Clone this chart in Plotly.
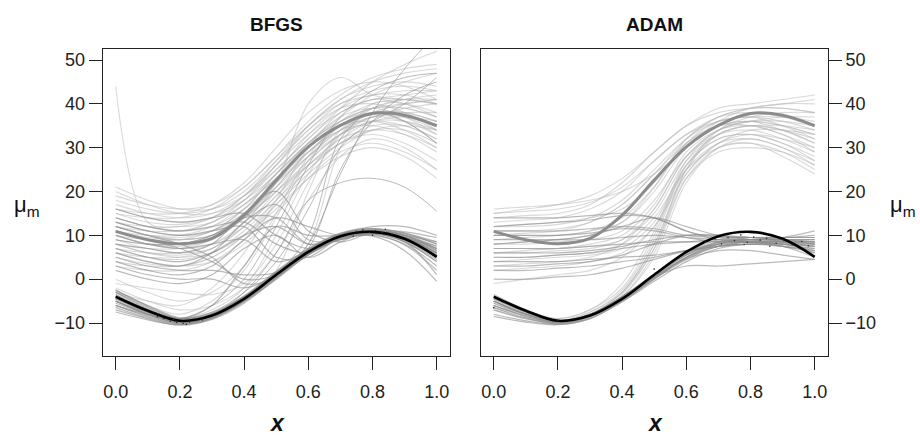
import plotly.graph_objects as go

# ---------------- data ----------------
x_grid = [0.0, 0.1, 0.2, 0.3, 0.4, 0.5, 0.6, 0.7, 0.8, 0.9, 1.0]
x_ticks = [0.0, 0.2, 0.4, 0.6, 0.8, 1.0]
x_tick_labels = ["0.0", "0.2", "0.4", "0.6", "0.8", "1.0"]
y_ticks = [-10, 0, 10, 20, 30, 40, 50]

true_mu1 = [10.9, 9.0, 8.1, 9.3, 14.6, 22.6, 30.2, 35.1, 37.8, 37.4, 35.0]
true_mu2 = [-4.0, -7.2, -9.5, -8.3, -4.5, 1.0, 6.2, 9.8, 10.8, 9.2, 5.1]

# BFGS: estimates ending in the upper component
bfgs_upper = [
    [12, 10, 9.5, 11, 16, 24, 31, 36, 39, 39, 37],
    [8, 6, 5.5, 7, 12, 20, 28, 34, 37, 36, 33],
    [15, 13, 12.5, 14, 19, 26, 33, 38, 41, 41, 40],
    [5, 3.5, 3, 5, 10, 18, 26, 32, 34, 33, 30],
    [18, 16, 15, 16, 20, 27, 34, 40, 43, 44, 43],
    [10, 8, 7.5, 9, 14, 22, 30, 35, 36, 34, 30],
    [13, 11, 10, 11, 15, 22, 29, 35, 39, 41, 42],
    [7, 5, 4.5, 6, 11, 18, 25, 31, 35, 35, 32],
    [20, 17, 15, 15, 18, 24, 31, 37, 42, 45, 47],
    [3, 2, 2, 4, 9, 17, 25, 31, 33, 31, 27],
    [11, 9.5, 9, 10, 14, 20, 27, 33, 37, 38, 38],
    [16, 14, 13, 14, 18, 25, 32, 38, 41, 40, 37],
    [9, 7, 6, 7, 12, 19, 27, 33, 36, 37, 36],
    [14, 12, 11, 13, 18, 26, 34, 39, 40, 38, 34],
    [6, 5, 5, 7, 13, 21, 29, 35, 38, 38, 36],
    [12, 11, 11, 13, 17, 23, 29, 34, 37, 39, 40],
    [17, 15, 14, 15, 19, 26, 35, 41, 44, 45, 44],
    [8, 7, 7, 9, 14, 22, 31, 37, 39, 37, 33],
    [10, 8, 7, 8, 13, 21, 29, 34, 35, 33, 29],
    [13, 12, 12, 14, 19, 27, 35, 40, 42, 43, 43],
    [4, 3, 3, 5, 10, 17, 24, 30, 34, 35, 34],
    [15, 14, 14, 16, 21, 28, 36, 42, 46, 48, 49],
    [9, 8, 8, 10, 15, 23, 31, 36, 38, 36, 31],
    [11, 10, 10, 12, 17, 24, 31, 36, 39, 40, 41],
    [19, 17, 16, 17, 21, 28, 35, 41, 45, 47, 48],
    [7, 6, 6, 8, 12, 19, 26, 32, 36, 36, 34],
    [14, 12, 11, 12, 16, 22, 28, 33, 36, 35, 32],
    [12, 10, 9, 10, 14, 20, 26, 31, 34, 34, 31],
    [6, 4, 3, 4, 8, 15, 23, 29, 31, 29, 25],
    [16, 15, 15, 17, 22, 30, 38, 43, 45, 44, 41],
    [10, 9, 9, 11, 16, 24, 33, 39, 42, 42, 40],
    [13, 11, 10, 11, 15, 21, 28, 34, 38, 40, 41],
    [8, 6, 5, 6, 10, 16, 23, 28, 30, 28, 23],
    [21, 18, 16, 16, 19, 25, 32, 39, 45, 49, 52],
    [44, 13, 12, 13, 17, 23, 30, 36, 39, 39, 37],
    [12, 10, 9, 10, 14, 22, 40, 46, 42, 41, 40],
    [-4, -7, -9, -7, -2, 10, 24, 33, 37, 37, 35],
    [-5, -8, -9.5, -8, -4, 2, 20, 34, 38, 38, 36],
    [-3, -6, -8, -5, 2, 14, 27, 35, 38, 37, 34],
    [-1, -2, -3, -3.5, -1, 8, 22, 33, 39, 41, 41],
    [-6, -8.5, -10, -8.5, -5, 0, 8, 30, 40, 40, 38],
    [0, -3, -5, -3, 3, 15, 28, 36, 40, 41, 40],
    [-2, -5, -7, -6, -2, 6, 18, 28, 32, 30, 25],
    [-3, -5, -6, -2, 6, 18, 30, 38, 41, 42, 43],
]

# BFGS: estimates that switch upward late (darker lines)
bfgs_switch_up = [
    [-4, -7, -9.5, -8, -3, 6, 18, 22, 23, 21, 15.5],
    [-4.5, -7.5, -9.5, -8, -4, 1, 8, 24, 38, 48, 56],
    [-3.5, -7, -9, -7.5, -3, 4, 16, 30, 36, 40, 46],
    [-6, -8, -9, -6, 0, 12, 26, 37, 43, 46, 47],
    [-4, -7, -9.5, -8, -4, 1, 7, 25, 36, 42, 45],
    [-5, -8, -9.8, -8.5, -4.5, 1, 10, 32, 38, 36, 31],
]

# BFGS: estimates ending in the lower component
bfgs_lower = [
    [-3, -6.5, -9, -8, -4, 1.5, 6.5, 10, 11, 9.5, 6],
    [-5, -8, -10, -8.8, -5, 0.5, 5.8, 9.5, 10.5, 8.5, 4],
    [-6, -8.5, -10.3, -9, -5.2, 0, 5.5, 9.5, 11, 10, 7],
    [-2.5, -6, -8.8, -7.6, -3.8, 1.8, 7, 10.5, 11.5, 10, 6.5],
    [-7, -9, -10.5, -9.2, -5.5, 0.2, 5.5, 9, 10, 8, 3],
    [-4.5, -7.5, -9.8, -8.5, -4.8, 0.8, 6, 9.8, 11.2, 10.3, 8],
    [-3.5, -7, -9.3, -8.2, -4.2, 1.2, 6.5, 10.2, 11.5, 10.5, 8.5],
    [-5.5, -8, -9.8, -8.5, -4.6, 1, 6.3, 9.7, 10.2, 7.8, 2],
    [-6.5, -8.8, -10.2, -8.8, -4.8, 0.6, 5.8, 9.4, 10.6, 9.6, 6.8],
    [-4, -7.3, -9.6, -8.4, -4.4, 1.2, 6.4, 10, 11.3, 10.8, 9.5],
    [-3, -6.8, -9.2, -8, -4, 1.5, 6.8, 10.4, 11, 8.8, 4.5],
    [-5, -7.8, -9.8, -8.6, -4.7, 0.8, 6, 9.4, 9.8, 6.5, -0.5],
    [-5, -7.6, -9.7, -8.5, -4.7, 0.7, 6, 9.6, 10.6, 9.4, 7.5],
    [-2.5, -6.2, -9, -7.8, -4, 1.6, 6.8, 10.3, 12, 12, 10],
    [-6, -8.2, -10, -8.7, -4.9, 0.5, 5.8, 9.3, 10.4, 9, 5.5],
    [-7.5, -9.3, -10.4, -9, -5, 0.4, 5.6, 9.2, 10.3, 8.6, 1],
    [10, 8, 7, 8, 9, 4, 6.5, 10, 11, 9.5, 6],
    [14, 12, 11, 12, 13, 8, 6, 9.5, 11, 9.5, 5.5],
    [5, 3, 2, 2, 1, 1.5, 6, 10, 11, 9.5, 6.5],
    [12, 10, 8, 5, -1, 0.5, 6.5, 10, 10.5, 8.5, 4],
    [16, 14, 13, 14, 15, 10, 7, 9.5, 11, 10, 7],
    [7, 5, 4, 6, 10, 12, 8, 9.5, 11, 9.5, 6],
    [9, 8, 8, 10, 14, 14, 8, 9, 10.5, 9, 5],
    [11, 9, 7, 4, 0, 1, 6, 10, 11.5, 10.5, 8],
    [3, 1, 0, 0, -2, 1, 6.5, 10, 11, 9, 5],
    [13, 11, 10, 11, 12, 5, 5, 9.5, 11, 10, 7.5],
    [6, 4, 3, 6, 13, 17, 9, 9, 11, 9.5, 6],
    [4, 2, 1, 3, 9, 14, 12, 10, 11, 9.5, 5.5],
    [-4, -7, -9, -6, 3, 12, 10, 10, 11, 9.5, 6],
    [8, 7, 6, 8, 15, 20, 11, 8.5, 10.5, 9.5, 7],
    [2, 0, -1, 1, 7, 10, 5, 8.5, 11, 10, 8.5],
]

# ADAM: estimates ending in the upper component
adam_upper = [
    [16, 16.5, 17, 18, 20, 24, 30, 36, 39, 40, 40],
    [15, 15.5, 16, 17.5, 21, 27, 33, 37, 38, 37, 35],
    [13, 13.5, 14, 16, 20, 27, 33, 36, 37, 35, 32],
    [12, 12, 12.5, 14, 18, 25, 32, 36, 37, 37, 36],
    [14, 14.5, 15, 17, 22, 29, 35, 38, 39, 39, 38],
    [11, 11, 11.5, 13, 17, 24, 31, 35, 36, 34, 31],
    [8, 8, 8.5, 9, 11, 18, 28, 33, 34, 32, 29],
    [6, 6.5, 7, 7.5, 9, 15, 27, 33, 35, 34, 32],
    [10, 10, 10, 11, 13, 20, 30, 35, 36, 35, 33],
    [4, 4.5, 5, 5.5, 7, 13, 26, 32, 33, 31, 27],
    [7, 7, 7, 8, 10, 17, 29, 34, 35, 33, 30],
    [9, 9.5, 10, 11, 14, 21, 31, 36, 37, 36, 34],
    [5, 5, 5.5, 6, 8, 14, 25, 30, 31, 29, 25],
    [3, 3.5, 4, 5, 8, 16, 28, 34, 36, 36, 35],
    [12, 12.5, 13, 14, 16, 22, 31, 35, 35, 33, 29],
    [2, 2.5, 3, 4, 6, 12, 24, 31, 34, 34, 33],
    [8, 8.5, 9, 10, 13, 21, 32, 37, 39, 40, 41],
    [6, 6, 6.5, 7, 9, 16, 28, 34, 36, 37, 37],
    [15, 16, 17, 19, 23, 29, 35, 39, 40, 41, 42],
    [10, 10.5, 11, 13, 17, 24, 32, 37, 39, 39, 38],
    [-1, 0, 1, 2, 5, 12, 25, 31, 32, 30, 26],
    [-5, -8, -9.5, -8, -3, 8, 24, 31, 33, 32, 30],
    [-6, -8.5, -10, -8.5, -4, 5, 22, 30, 32, 30, 27],
    [-4, -7, -9, -7, -1, 11, 27, 34, 36, 35, 33],
    [-7, -9, -10, -8, -3, 8, 25, 33, 35, 35, 34],
    [-5, -7.5, -9, -7, -2, 10, 26, 32, 33, 31, 28],
    [-6, -8, -9.5, -8, -4, 6, 23, 30, 31, 28, 24],
    [-4.5, -7.5, -9.5, -7.5, -2.5, 9, 26, 33, 35, 34, 31],
    [-6.5, -8.5, -9.8, -8.5, -3.5, 7, 25, 34, 37, 38, 38],
    [-5.5, -8, -9.5, -7.5, -3, 7, 23, 29, 30, 29, 26],
]

# ADAM: estimates ending in the lower component
adam_lower = [
    [-5, -8, -9.8, -8.3, -4.5, 0.5, 5, 7.5, 8.5, 8.5, 8],
    [-6, -8.5, -10, -8.5, -4.5, 0.5, 5, 8, 9, 8.5, 7.5],
    [-4, -7.2, -9.5, -8.2, -4.2, 1, 5.8, 8.5, 9, 8.8, 8.5],
    [-7, -9, -10.2, -8.8, -5, 0, 4.5, 7.5, 8.5, 8, 6.5],
    [-8, -9.5, -10.3, -9, -5, 0, 5, 8, 9, 9, 9],
    [-5.5, -8, -9.7, -8.4, -4.6, 0.5, 5.5, 8.5, 9.5, 9.5, 9.5],
    [-4.5, -7.5, -9.5, -8, -4, 1.2, 6, 9, 9.5, 8.5, 6],
    [-6.5, -8.8, -10, -8.5, -4.8, 0.2, 4.8, 7.5, 8, 7.5, 6],
    [-3.5, -7, -9.3, -8, -4, 1, 5.5, 8, 8.5, 7.5, 5],
    [-8.5, -9.8, -10.4, -9, -5.2, -0.5, 4, 7, 8, 7.5, 7],
    [-5, -7.8, -9.6, -8.3, -4.3, 0.8, 5.5, 8.3, 9, 9, 8.5],
    [-6, -8.3, -9.9, -8.5, -4.6, 0.3, 4.6, 6.5, 6.5, 5.5, 4.5],
    [-5, -8, -9.5, -8, -4, 0.5, 3, 3, 3.5, 4, 4.5],
    [7, 7, 7, 7.5, 8, 8.5, 8.5, 8.5, 8.5, 8, 7.5],
    [10, 10, 10, 10.5, 11.5, 11, 9.5, 8.5, 8.5, 8.5, 8],
    [4, 4, 4, 4.5, 5, 5.5, 6.5, 7.5, 8, 8, 7.5],
    [12, 12.5, 13, 13.5, 14.5, 14, 11, 9, 8.5, 8.5, 8.5],
    [2, 2, 2.5, 3, 4, 5, 6.5, 7.5, 8, 8, 8],
    [8, 8.5, 9, 10, 12, 14, 12, 10, 9.5, 9.5, 9.5],
    [5, 5, 5.5, 6, 7, 8, 8.5, 9, 9, 9, 9],
    [11, 11, 11, 11.5, 12, 11.5, 10, 9.5, 9.5, 9.5, 10],
    [0, 0, 0.5, 1, 2.5, 4.5, 6.5, 8, 8.5, 8.5, 8.5],
    [14, 14, 14, 14.5, 15, 14, 11, 9.5, 9, 9.5, 11],
    [6, 6, 6, 6.5, 7.5, 9, 10, 10, 9.5, 9, 8],
    [9, 9, 9, 9, 9.5, 10, 9.5, 9, 8.5, 7.5, 6.5],
    [3, 3, 3.5, 4, 5.5, 8, 10, 10, 9, 8, 7],
]

bfgs_dot_x = [0.13, 0.15, 0.17, 0.19, 0.21, 0.23, 0.25, 0.27, 0.18, 0.22,
              0.72, 0.75, 0.77, 0.79, 0.81, 0.83, 0.86, 0.74, 0.80, 0.84]
bfgs_dot_y = [-8.6, -9.0, -9.6, -9.9, -10.1, -9.8, -9.5, -9.3, -9.2, -10.3,
              10.4, 10.9, 11.3, 10.6, 11.1, 10.7, 10.3, 9.8, 10.0, 11.4]
adam_dot_x = [0.66, 0.69, 0.71, 0.73, 0.75, 0.77, 0.79, 0.81, 0.83, 0.85, 0.88,
              0.90, 0.93, 0.96, 0.98, 0.72, 0.78, 0.86, 0.20, 0.25, 0.00, 0.50]
adam_dot_y = [8.5, 9.2, 8.0, 9.5, 8.8, 10.1, 8.4, 9.6, 8.9, 9.3, 8.2,
              9.0, 7.8, 8.6, 7.6, 10.3, 7.9, 7.5, -9.4, -9.0, -6.5, 2.3]

# ---------------- figure ----------------
W, H = 920, 436
LIGHT = "rgba(180,180,180,0.5)"
DARK = "rgba(140,140,140,0.6)"
FONT = "Liberation Sans, Arial, Helvetica, sans-serif"

fig = go.Figure()


def add_curves(curves, color, xa, ya, width=1.0):
    for c in curves:
        fig.add_trace(go.Scatter(x=x_grid, y=c, mode="lines", xaxis=xa, yaxis=ya,
                                 line=dict(color=color, width=width, shape="spline"),
                                 hoverinfo="skip", showlegend=False))


for xa, ya, up, sw, lo, dx, dy in [
    ("x", "y", bfgs_upper, bfgs_switch_up, bfgs_lower, bfgs_dot_x, bfgs_dot_y),
    ("x2", "y2", adam_upper, [], adam_lower, adam_dot_x, adam_dot_y),
]:
    add_curves(up, LIGHT, xa, ya, 1.1)
    add_curves(sw, DARK, xa, ya, 1.0)
    add_curves(lo, DARK, xa, ya, 1.2)
    fig.add_trace(go.Scatter(x=x_grid, y=true_mu1, mode="lines", xaxis=xa, yaxis=ya,
                             line=dict(color="#8c8c8c", width=3, shape="spline"),
                             hoverinfo="skip", showlegend=False))
    fig.add_trace(go.Scatter(x=x_grid, y=true_mu2, mode="lines", xaxis=xa, yaxis=ya,
                             line=dict(color="#000000", width=2.6, shape="spline"),
                             hoverinfo="skip", showlegend=False))
    fig.add_trace(go.Scatter(x=dx, y=dy, mode="markers", xaxis=xa, yaxis=ya,
                             marker=dict(color="#333333", size=1.6),
                             hoverinfo="skip", showlegend=False))

axis_common = dict(showline=True, mirror=True, linecolor="#222222", linewidth=1.2,
                   ticks="outside", ticklen=13, tickwidth=1.2, tickcolor="#222222",
                   showgrid=False, zeroline=False, automargin=False,
                   tickfont=dict(family=FONT, size=18, color="#222222"))

xr = [-0.0405, 1.0405]
yr = [-17.53, 52.58]
ydom = [1 - 356 / H, 1 - 48.7 / H]

fig.update_layout(
    width=W, height=H, margin=dict(l=0, r=0, t=0, b=0, autoexpand=False),
    paper_bgcolor="white", plot_bgcolor="white",
    xaxis=dict(domain=[102.7 / W, 449.7 / W], range=xr, anchor="y",
               tickvals=x_ticks, ticktext=x_tick_labels, ticklabelstandoff=6,
               **axis_common),
    yaxis=dict(domain=ydom, range=yr, anchor="x", tickvals=y_ticks, **axis_common),
    xaxis2=dict(domain=[480.7 / W, 827.7 / W], range=xr, anchor="y2",
                tickvals=x_ticks, ticktext=x_tick_labels, ticklabelstandoff=6,
                **axis_common),
    yaxis2=dict(domain=ydom, range=yr, anchor="x2", side="right",
                tickvals=y_ticks, **axis_common),
)


def ann(text, px, py, size, **kw):
    fig.add_annotation(text=text, x=px / W, y=1 - py / H, xref="paper", yref="paper",
                       showarrow=False, xanchor="center", yanchor="middle",
                       font=dict(family=FONT, size=size, color="#111111"), **kw)


ann("<b>BFGS</b>", 276.5, 24, 19)
ann("<b>ADAM</b>", 654, 24, 19)
ann("<b><i>x</i></b>", 277, 423, 23, borderpad=0)
ann("<b><i>x</i></b>", 655, 423, 23, borderpad=0)
ann("\u03bc<sub>m</sub>", 27, 206, 22)
ann("\u03bc<sub>m</sub>", 903, 206, 22)

fig.write_html(
    "out.html",
    config={"displayModeBar": False},
    post_script="document.body.style.margin='0';document.body.style.padding='0';"
                "document.body.style.overflow='hidden';",
)
